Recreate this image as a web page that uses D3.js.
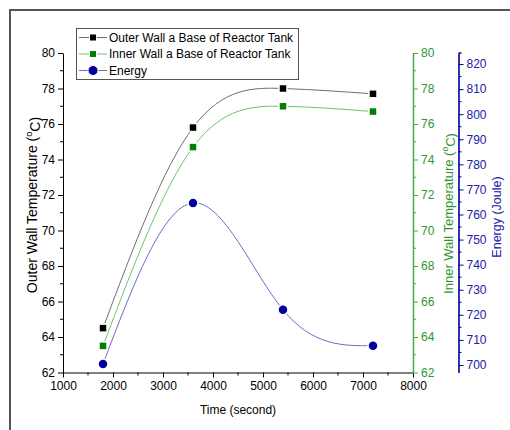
<!DOCTYPE html>
<html>
<head>
<meta charset="utf-8">
<script src="https://cdn.jsdelivr.net/npm/d3@7"></script>
<style>
  html, body { margin: 0; padding: 0; background: #fff; }
  svg { display: block; font-family: "Liberation Sans", Arial, sans-serif; }
</style>
</head>
<body>
<svg id="chart" width="510" height="430"></svg>
<script>
// Time samples (s)
const times = [1800, 3600, 5400, 7200];
// Outer wall temperature at the base of the reactor tank (°C)
const outerWall = [64.5, 75.8, 78.0, 77.7];
// Inner wall temperature at the base of the reactor tank (°C)
const innerWall = [63.5, 74.7, 77.0, 76.7];
// Energy (Joule)
const energy = [700.4, 764.6, 722.0, 707.7];

const xTicks = [1000, 2000, 3000, 4000, 5000, 6000, 7000, 8000];
const tempTicks = [62, 64, 66, 68, 70, 72, 74, 76, 78, 80];
const energyTicks = [700, 710, 720, 730, 740, 750, 760, 770, 780, 790, 800, 810, 820];

const seriesNames = ["Outer Wall a Base of Reactor Tank", "Inner Wall a Base of Reactor Tank", "Energy"];

const svg = d3.select("#chart");

const plot = { left: 63, right: 413, top: 53, bottom: 372.5 };
const greenAxisX = plot.right;
const blueAxisX = 458.5;

const colOuterMark = "#000000", colOuterLine = "#707070";
const colInnerMark = "#008000", colInnerLine = "#6cc46c", colInnerText = "#2e962e", colInnerAxis = "#4caa4c";
const colEnergyMark = "#00009c", colEnergyLine = "#6c6cc8", colEnergyText = "#2020a8";

const x = d3.scaleLinear().domain([1000, 8000]).range([plot.left, plot.right]);
const yOuter = d3.scaleLinear().domain([62, 80]).range([plot.bottom, plot.top]);
const yInner = d3.scaleLinear().domain([62, 80]).range([plot.bottom, plot.top]);
const yEnergy = d3.scaleLinear().domain([697, 824.4]).range([plot.bottom, plot.top]);

// outer frame
svg.append("rect")
  .attr("x", 10).attr("y", 10).attr("width", 540).attr("height", 460)
  .attr("fill", "none").attr("stroke", "#555").attr("stroke-width", 2);

// helper: minor ticks
function minorTicks(g, positions, len, dir, color, horizontal) {
  positions.forEach(p => {
    if (horizontal) {
      g.append("line").attr("x1", p).attr("x2", p).attr("y1", 0).attr("y2", len * dir)
        .attr("stroke", color).attr("stroke-width", 1);
    } else {
      g.append("line").attr("y1", p).attr("y2", p).attr("x1", 0).attr("x2", len * dir)
        .attr("stroke", color).attr("stroke-width", 1);
    }
  });
}

// bottom axis
const gx = svg.append("g").attr("transform", `translate(0,${plot.bottom})`)
  .call(d3.axisBottom(x).tickValues(xTicks).tickSize(5).tickSizeOuter(0).tickPadding(4).tickFormat(d3.format("d")));
gx.select(".domain").attr("stroke", "#000");
gx.selectAll(".tick line").attr("stroke", "#000");
gx.selectAll("text").attr("font-size", 12).attr("fill", "#000").attr("font-family", "Liberation Sans, Arial, sans-serif");
minorTicks(gx, d3.range(1500, 8000, 1000).map(x), 3, 1, "#000", true);

// left axis
const gy = svg.append("g").attr("transform", `translate(${plot.left},0)`)
  .call(d3.axisLeft(yOuter).tickValues(tempTicks).tickSize(5).tickSizeOuter(0).tickPadding(3).tickFormat(d3.format("d")));
gy.select(".domain").attr("stroke", "#000");
gy.selectAll(".tick line").attr("stroke", "#000");
gy.selectAll("text").attr("font-size", 12).attr("fill", "#000").attr("font-family", "Liberation Sans, Arial, sans-serif");
minorTicks(gy, d3.range(63, 80, 2).map(yOuter), 3, -1, "#000", false);

// right green axis (inner wall)
const gg = svg.append("g").attr("transform", `translate(${greenAxisX},0)`)
  .call(d3.axisRight(yInner).tickValues(tempTicks).tickSize(5).tickSizeOuter(0).tickPadding(3).tickFormat(d3.format("d")));
gg.select(".domain").attr("stroke", colInnerAxis).attr("stroke-width", 1.5);
gg.selectAll(".tick line").attr("stroke", colInnerAxis);
gg.selectAll("text").attr("font-size", 12).attr("fill", colInnerText).attr("font-family", "Liberation Sans, Arial, sans-serif");
minorTicks(gg, d3.range(63, 80, 2).map(yInner), 3, 1, colInnerAxis, false);

// right blue axis (energy)
const gb = svg.append("g").attr("transform", `translate(${blueAxisX},0)`)
  .call(d3.axisRight(yEnergy).tickValues(energyTicks).tickSize(5).tickSizeOuter(0).tickPadding(3).tickFormat(d3.format("d")));
gb.select(".domain").attr("stroke", colEnergyMark).attr("stroke-width", 1.6);
gb.selectAll(".tick line").attr("stroke", colEnergyMark);
gb.selectAll("text").attr("font-size", 12).attr("fill", colEnergyText).attr("font-family", "Liberation Sans, Arial, sans-serif");
minorTicks(gb, d3.range(705, 824, 10).map(yEnergy), 3, 1, colEnergyMark, false);
// small cap at the top of the energy axis
gb.append("line").attr("x1", 0).attr("x2", 3).attr("y1", plot.top).attr("y2", plot.top)
  .attr("stroke", colEnergyMark).attr("stroke-width", 1.5);

// axis titles
svg.append("text").attr("x", (plot.left + plot.right) / 2).attr("y", 414)
  .attr("text-anchor", "middle").attr("font-size", 12).attr("fill", "#000").text("Time (second)");

function tempTitle(label, cx, cy, size, color) {
  const t = svg.append("text")
    .attr("transform", `translate(${cx},${cy}) rotate(-90)`)
    .attr("text-anchor", "middle").attr("dy", "0.35em")
    .attr("font-size", size).attr("fill", color);
  t.append("tspan").text(label + " (");
  t.append("tspan").attr("font-size", size * 0.66).attr("dy", "-0.55em").text("o");
  t.append("tspan").attr("dy", "0.55em").text("C)");
}
tempTitle("Outer Wall Temperature", 32, 205, 14, "#000");
tempTitle("Inner Wall Temperature", 448, 213.5, 13, colInnerText);
svg.append("text")
  .attr("transform", `translate(497,217) rotate(-90)`)
  .attr("text-anchor", "middle").attr("dy", "0.35em")
  .attr("font-size", 12.5).attr("fill", colEnergyText).text("Energy (Joule)");

// smooth spline lines
function drawSeries(values, yScale, lineColor) {
  const line = d3.line().x((d, i) => x(times[i])).y(d => yScale(d)).curve(d3.curveNatural);
  svg.append("path").datum(values).attr("d", line)
    .attr("fill", "none").attr("stroke", lineColor).attr("stroke-width", 1);
}
drawSeries(outerWall, yOuter, colOuterLine);
drawSeries(innerWall, yInner, colInnerLine);
drawSeries(energy, yEnergy, colEnergyLine);

// markers
function squares(values, yScale, color) {
  svg.append("g").selectAll("rect").data(values).join("rect")
    .attr("x", (d, i) => x(times[i]) - 4).attr("y", d => yScale(d) - 4)
    .attr("width", 8).attr("height", 8)
    .attr("fill", color).attr("stroke", "#fff").attr("stroke-width", 1.5);
}
squares(outerWall, yOuter, colOuterMark);
squares(innerWall, yInner, colInnerMark);
svg.append("g").selectAll("circle").data(energy).join("circle")
  .attr("cx", (d, i) => x(times[i])).attr("cy", d => yEnergy(d)).attr("r", 5)
  .attr("fill", colEnergyMark).attr("stroke", "#fff").attr("stroke-width", 1.5);

// legend
const leg = svg.append("g");
leg.append("rect").attr("x", 76.5).attr("y", 28.5).attr("width", 222).attr("height", 51)
  .attr("fill", "#fff").attr("stroke", "#555").attr("stroke-width", 1);
const legendItems = [
  { name: seriesNames[0], line: colOuterLine, mark: colOuterMark, shape: "square" },
  { name: seriesNames[1], line: colInnerLine, mark: colInnerMark, shape: "square" },
  { name: seriesNames[2], line: colEnergyLine, mark: colEnergyMark, shape: "circle" }
];
legendItems.forEach((it, i) => {
  const cy = 37.5 + i * 16.5;
  leg.append("line").attr("x1", 79).attr("x2", 107).attr("y1", cy).attr("y2", cy)
    .attr("stroke", it.line).attr("stroke-width", 1);
  if (it.shape === "square") {
    leg.append("rect").attr("x", 89.5).attr("y", cy - 3.5).attr("width", 7).attr("height", 7)
      .attr("fill", it.mark).attr("stroke", "#fff").attr("stroke-width", 1);
  } else {
    leg.append("circle").attr("cx", 93).attr("cy", cy).attr("r", 5)
      .attr("fill", it.mark).attr("stroke", "#fff").attr("stroke-width", 1);
  }
  leg.append("text").attr("x", 109).attr("y", cy).attr("dy", "0.35em")
    .attr("font-size", 12).attr("fill", "#000").text(it.name);
});
</script>
</body>
</html>
